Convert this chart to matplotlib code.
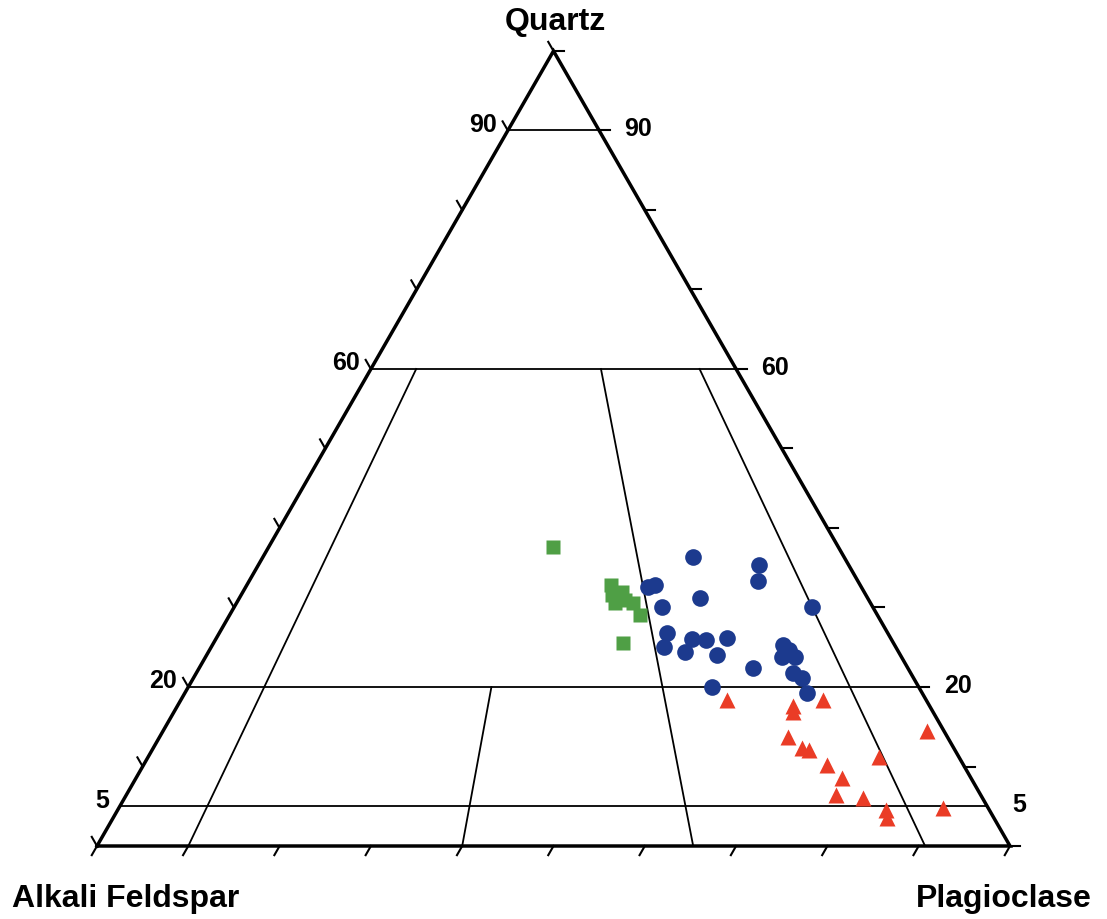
import numpy as np
import matplotlib
matplotlib.use("Agg")
import matplotlib.pyplot as plt

plt.rcParams['font.family'] = ['Liberation Sans', 'DejaVu Sans']

# modal compositions in percent (Q, A, P)
sq_q = [37.6, 32.8, 31.9, 31.6, 30.6, 30.9, 30.6, 29.1, 25.5]
sq_a = [31.3, 27.3, 26.5, 27.8, 28.0, 26.7, 26.0, 26.0, 29.6]
sq_p = [31.1, 39.9, 41.6, 40.6, 41.4, 42.4, 43.4, 44.9, 44.9]

ci_q = [36.4, 35.3, 33.3, 32.6, 32.8, 31.2, 30.1, 30.1, 26.8, 25.0, 26.0, 25.9,
        24.4, 26.2, 24.0, 22.4, 25.3, 24.7, 23.8, 23.8, 21.8, 21.1, 20.0, 19.2]
ci_a = [16.5, 9.8, 10.9, 23.3, 22.5, 18.4, 23.1, 6.6, 24.2, 25.4, 21.8, 20.3,
        23.4, 17.9, 20.1, 16.9, 12.2, 11.9, 13.1, 11.6, 12.9, 12.2, 22.6, 12.6]
ci_p = [47.1, 54.9, 55.8, 44.1, 44.7, 50.4, 46.8, 63.3, 49.0, 49.6, 52.2, 53.8,
        52.2, 55.9, 55.9, 60.7, 62.5, 63.4, 63.1, 64.6, 65.3, 66.7, 57.4, 68.2]

tr_q = [18.4, 17.6, 16.9, 18.4, 13.7, 12.3, 12.1, 10.2, 8.6, 11.2, 14.5, 6.4,
        6.0, 4.5, 3.5, 4.8]
tr_a = [21.8, 15.0, 15.3, 11.3, 17.5, 16.6, 16.0, 14.9, 14.1, 8.7, 1.8, 15.9,
        13.1, 11.3, 11.7, 4.9]
tr_p = [59.8, 67.4, 67.8, 70.3, 68.8, 71.1, 71.9, 74.9, 77.3, 80.1, 83.7, 77.7,
        80.9, 84.2, 84.8, 90.3]

# field boundaries: horizontal quartz levels and plag/(alk+plag) lines
q_levels = [90, 60, 20, 5]
q_labels = ['90', '60', '20', '5']
ratio_lines = [  # (Q top, ratio top, Q bottom, ratio bottom)
    (60, 0.124, 0, 0.100),
    (60, 0.630, 0, 0.653),
    (60, 0.900, 0, 0.907),
    (20, 0.415, 0, 0.400),
]

H = np.sqrt(3) / 2


def tern(q, a, p):
    q, a, p = np.asarray(q, float), np.asarray(a, float), np.asarray(p, float)
    s = q + a + p
    q, p = q / s, p / s
    return p + q / 2, q * H


def from_ratio(q, r):
    q = q / 100.0
    return tern(q, (1 - q) * (1 - r), (1 - q) * r)


fig = plt.figure(figsize=(11.07, 9.19), dpi=100)
ax = fig.add_axes([97 / 1107, 73 / 919, 913 / 1107, 795 / 919])
ax.set_xlim(0, 1)
ax.set_ylim(0, H)
ax.axis('off')

lw_in = 1.3
for q in q_levels:
    x0, y0 = tern(q, 100 - q, 0)
    x1, y1 = tern(q, 0, 100 - q)
    ax.plot([x0, x1], [y0, y1], color='black', lw=lw_in, clip_on=False)
for qt, rt, qb, rb in ratio_lines:
    xt, yt = from_ratio(qt, rt)
    xb, yb = from_ratio(qb, rb)
    ax.plot([xt, xb], [yt, yb], color='black', lw=lw_in, clip_on=False)

# outer triangle
ax.plot([0, 1, 0.5, 0], [0, 0, H, 0], color='black', lw=2.5,
        solid_joinstyle='miter', clip_on=False)

# ticks every 10 %
L = 0.0115
for t in np.arange(0, 1.01, 0.1):
    ax.plot([t, t - 0.5 * L], [0, -H * L], color='black', lw=1.5, clip_on=False)
    ax.plot([t / 2, t / 2 - 0.5 * L], [t * H, t * H + H * L], color='black',
            lw=1.5, clip_on=False)
    ax.plot([1 - t / 2, 1 - t / 2 + L], [t * H, t * H], color='black',
            lw=1.5, clip_on=False)

# quartz level labels on both sides
for q, lab in zip(q_levels, q_labels):
    xl, yl = tern(q, 100 - q, 0)
    xr, yr = tern(q, 0, 100 - q)
    ax.annotate(lab, (xl, yl), xytext=(-8, 4), textcoords='offset points',
                ha='right', va='center', fontsize=18, fontweight='bold')
    ax.annotate(lab, (xr, yr), xytext=(18, 1), textcoords='offset points',
                ha='left', va='center', fontsize=18, fontweight='bold')

x, y = tern(sq_q, sq_a, sq_p)
ax.plot(x, y, 's', color='#4f9f45', ms=10.5, mec='none', clip_on=False)
x, y = tern(ci_q, ci_a, ci_p)
ax.plot(x, y, 'o', color='#1c3a8e', ms=12, mec='none', clip_on=False)
x, y = tern(tr_q, tr_a, tr_p)
ax.plot(x, y, '^', color='#ea3c26', ms=12, mec='none', clip_on=False)

fig.text(555 / 1107, 1 - 30 / 919, 'Quartz', ha='center', va='baseline',
         fontsize=23, fontweight='bold')
fig.text(12 / 1107, 1 - 907 / 919, 'Alkali Feldspar', ha='left', va='baseline',
         fontsize=23, fontweight='bold')
fig.text(1092 / 1107, 1 - 907 / 919, 'Plagioclase', ha='right', va='baseline',
         fontsize=23, fontweight='bold')

fig.savefig('out.png', dpi=100, facecolor='white')
